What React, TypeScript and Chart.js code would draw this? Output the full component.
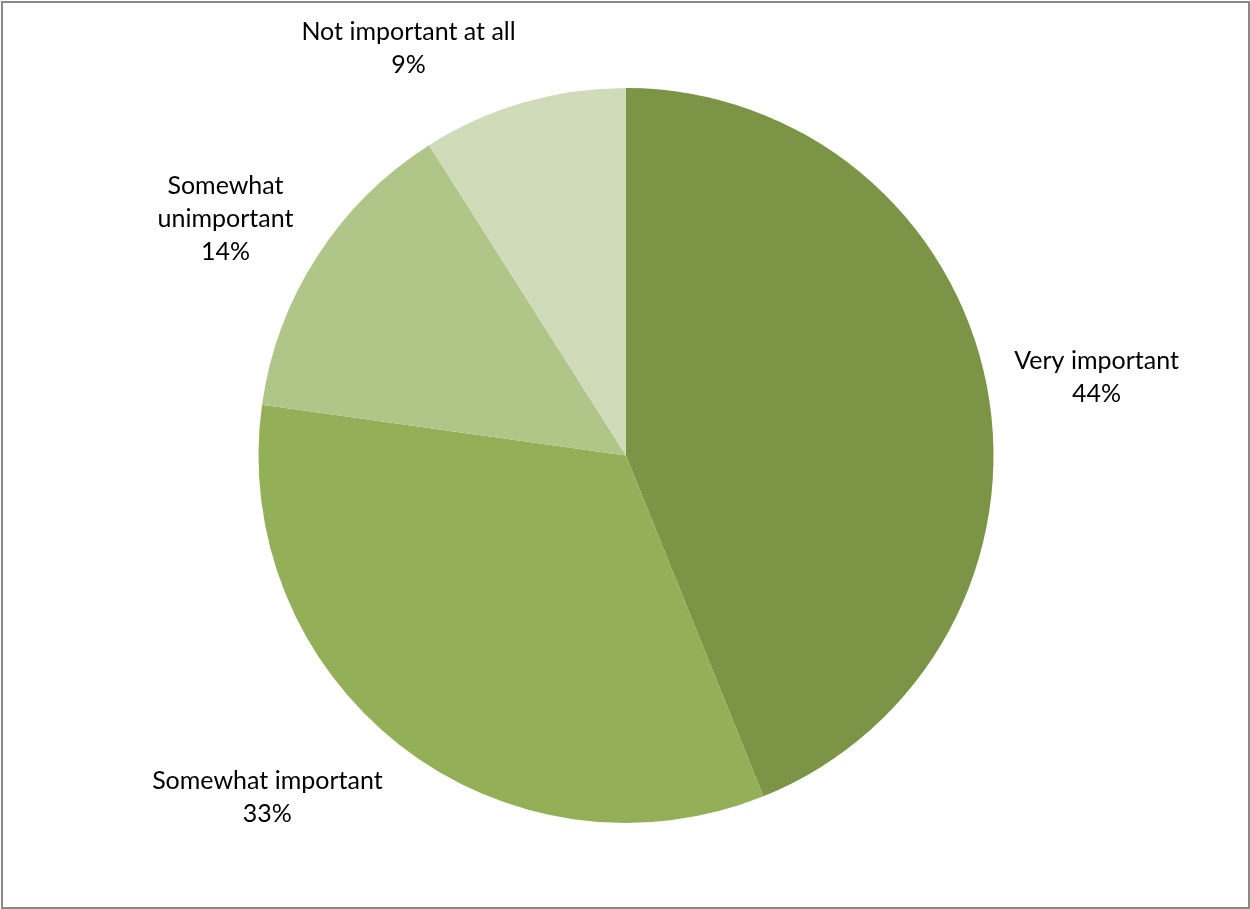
import React, { useEffect, useRef } from "react";
import { Chart, registerables } from "chart.js";

Chart.register(...registerables);

const categories = ["Very important", "Somewhat important", "Somewhat unimportant", "Not important at all"];
const shares = [43.9, 33.3, 13.8, 9.0];
const sliceColors = ["#7B9446", "#93B058", "#AFC688", "#CFDBB9"];

const FONT = "25px Lato";
const LINE_H = 33;
const WRAP_W = 245;
const LABEL_GAP = 28;
const TEXT_DY = 4;

function wrapText(ctx: CanvasRenderingContext2D, text: string, maxW: number): string[] {
  const words = text.split(" ");
  const lines: string[] = [];
  let cur = "";
  for (const w of words) {
    const test = cur ? cur + " " + w : w;
    if (cur && ctx.measureText(test).width > maxW) {
      lines.push(cur);
      cur = w;
    } else {
      cur = test;
    }
  }
  if (cur) lines.push(cur);
  return lines;
}

const framePlugin = {
  id: "frame",
  beforeDraw(chart: any) {
    const ctx = chart.ctx as CanvasRenderingContext2D;
    ctx.save();
    ctx.fillStyle = "#ffffff";
    ctx.fillRect(0, 0, chart.width, chart.height);
    ctx.strokeStyle = "#898989";
    ctx.lineWidth = 2;
    ctx.strokeRect(2, 2, chart.width - 3, chart.height - 3);
    ctx.restore();
  },
};

const outsideLabels = {
  id: "outsideLabels",
  afterDatasetsDraw(chart: any) {
    const ctx = chart.ctx as CanvasRenderingContext2D;
    const meta = chart.getDatasetMeta(0);
    const data = chart.data.datasets[0].data as number[];
    const total = data.reduce((a, b) => a + b, 0);
    ctx.save();
    ctx.font = FONT;
    ctx.fillStyle = "#000000";
    ctx.textAlign = "center";
    ctx.textBaseline = "middle";
    meta.data.forEach((arc: any, i: number) => {
      const { x, y, startAngle, endAngle, outerRadius } = arc.getProps(
        ["x", "y", "startAngle", "endAngle", "outerRadius"],
        true
      );
      const mid = (startAngle + endAngle) / 2;
      const dx = Math.cos(mid);
      const dy = Math.sin(mid);
      const D = outerRadius + LABEL_GAP;
      const px = x + dx * D;
      const py = y + dy * D;
      const lines = wrapText(ctx, String(chart.data.labels[i]), WRAP_W);
      lines.push(Math.round((data[i] / total) * 100) + "%");
      const w = Math.max(...lines.map((l) => ctx.measureText(l).width));
      const h = lines.length * LINE_H;
      const cx = dx >= 0 ? px + w / 2 : px - w / 2;
      const cy = py + (dy * h) / 2 + TEXT_DY;
      lines.forEach((l, k) => ctx.fillText(l, cx, cy - h / 2 + LINE_H * (k + 0.5)));
    });
    ctx.restore();
  },
};

export default function App() {
  const ref = useRef<HTMLCanvasElement | null>(null);
  useEffect(() => {
    if (!ref.current) return;
    const chart = new Chart(ref.current, {
      type: "pie",
      data: {
        labels: categories,
        datasets: [
          {
            data: shares,
            backgroundColor: sliceColors,
            borderWidth: 0,
          },
        ],
      },
      options: {
        responsive: false,
        animation: false,
        layout: { padding: { top: 88, bottom: 86, left: 2, right: 0 } },
        plugins: {
          legend: { display: false },
          tooltip: { enabled: false },
        },
      },
      plugins: [framePlugin, outsideLabels],
    });
    return () => chart.destroy();
  }, []);
  return (
    <div style={{ position: "absolute", left: 0, top: 0, width: 1250, height: 909 }}>
      <canvas ref={ref} width={1250} height={909} />
    </div>
  );
}
